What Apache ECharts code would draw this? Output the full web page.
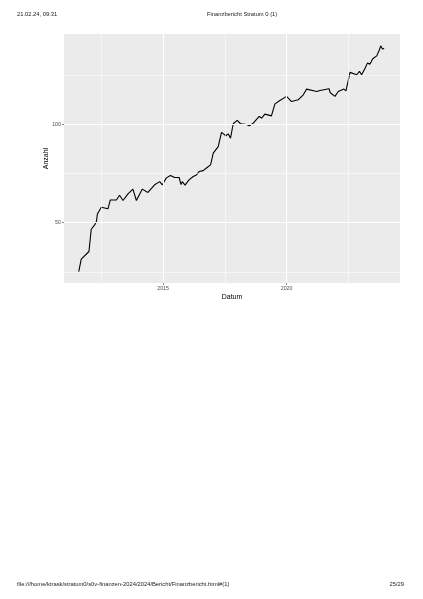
<!DOCTYPE html>
<html>
<head>
<meta charset="utf-8">
<script src="https://cdn.jsdelivr.net/npm/echarts@6/dist/echarts.min.js"></script>
<style>
html,body{margin:0;padding:0;background:#fff;}
#chart{width:423px;height:599px;}
</style>
</head>
<body>
<div id="chart"></div>
<script>
// ---- data ----
const dates = ['2011-08-03','2011-09-09','2011-10-03','2012-01-01','2012-02-04','2012-03-25','2012-04-20','2012-05-05',
'2012-07-01','2012-09-05','2012-10-08','2012-11-12','2013-02-10','2013-03-28','2013-05-19','2013-07-31','2013-10-12',
'2013-12-02','2014-02-28','2014-05-22','2014-08-29','2014-11-12','2014-12-21','2015-02-19','2015-04-20','2015-06-21',
'2015-08-26','2015-09-24','2015-10-12','2015-11-22','2016-01-19','2016-03-22','2016-05-08','2016-06-17','2016-08-15',
'2016-10-13','2016-12-03','2017-01-12','2017-03-26','2017-05-14','2017-07-17','2017-08-20','2017-09-24','2017-11-03',
'2018-01-01','2018-02-19','2018-05-19','2018-06-28','2018-08-26','2018-11-22','2018-12-28','2019-02-14','2019-05-22',
'2019-07-13','2019-09-24','2020-01-01','2020-03-14','2020-06-21','2020-09-04','2020-10-23','2021-03-22','2021-05-08',
'2021-09-20','2021-10-05','2021-12-16','2022-02-03','2022-04-27','2022-05-28','2022-07-27','2022-11-03','2022-12-13',
'2023-01-15','2023-03-08','2023-04-10','2023-05-19','2023-06-28','2023-08-26','2023-10-05','2023-10-23','2023-11-21',
'2023-12-13'];
const anzahl = [25.1,31.4,32.4,35.3,46.6,48.8,50.5,54.4,
57.8,57.3,57.0,61.5,61.5,63.9,61.2,64.6,67.0,
61.2,67.0,65.3,69.2,70.8,69.2,72.7,73.9,72.9,
72.9,69.3,70.8,69.0,71.7,73.4,74.2,75.9,76.4,
78.0,79.3,85.3,88.6,95.8,94.1,95.1,92.9,100.2,
101.9,100.2,99.8,99.2,100.5,103.9,103.1,105.1,104.2,
110.3,112.0,114.1,111.5,112.4,114.9,117.8,116.6,117.1,
118.0,116.1,114.1,116.6,117.8,116.9,126.3,125.1,126.8,
125.1,128.5,131.0,130.5,133.2,134.7,137.8,139.8,138.1,
138.6];
const xMajorTicks = ['2015-01-01','2020-01-01'];
const xMinorTicks = ['2012-07-02','2017-07-02','2022-07-02'];
const yMajorTicks = [50, 100];
const yMinorTicks = [25, 75, 125];
const xRange = ['2010-12-28','2024-08-04'];
const yRange = [19.3, 145.8];

const headerLeft = '21.02.24, 09:31';
const headerCenter = 'Finanzbericht Stratum 0 (1)';
const footerLeft = 'file:///home/ktrask/stratum0/s0v-finanzen-2024/2024/Bericht/Finanzbericht.html#(1)';
const footerRight = '25/29';

const ts = s => Date.parse(s + 'T00:00:00Z');
const lineData = dates.map((d, i) => [ts(d), anzahl[i]]);

const font = 'Liberation Sans, Arial, sans-serif';
const chart = echarts.init(document.getElementById('chart'), null, {renderer: 'canvas'});

const gridLines = [].concat(
  xMajorTicks.map(d => ({xAxis: ts(d), lineStyle: {width: 1.1}})),
  xMinorTicks.map(d => ({xAxis: ts(d), lineStyle: {width: 0.55}})),
  yMajorTicks.map(v => ({yAxis: v, lineStyle: {width: 1.1}})),
  yMinorTicks.map(v => ({yAxis: v, lineStyle: {width: 0.55}}))
);
const pageText = {fontFamily: font, fontSize: 5.8, fontWeight: 'normal', color: '#222'};

chart.setOption({
  animation: false,
  backgroundColor: '#ffffff',
  title: [
    {text: headerLeft, left: 17, top: 11, padding: 0, textStyle: pageText},
    {text: headerCenter, left: 207, top: 11, padding: 0, textStyle: pageText},
    {text: footerLeft, left: 17, top: 581.5, padding: 0, textStyle: pageText},
    {text: footerRight, right: 19, top: 581.5, padding: 0, textStyle: pageText}
  ],
  grid: {left: 64, top: 34, right: 23, bottom: 316, show: true, backgroundColor: '#EBEBEB', borderWidth: 0},
  xAxis: {
    type: 'value',
    min: ts(xRange[0]), max: ts(xRange[1]),
    name: 'Datum', nameLocation: 'middle', nameGap: 11, nameMoveOverlap: false,
    nameTextStyle: {fontFamily: font, fontSize: 7, color: '#000'},
    axisLine: {show: false},
    axisTick: {show: true, length: 2, lineStyle: {color: '#333', width: 0.6}, customValues: xMajorTicks.map(ts)},
    axisLabel: {show: true, margin: 3, fontFamily: font, fontSize: 5.3, color: '#4D4D4D',
      customValues: xMajorTicks.map(ts), formatter: v => String(new Date(v).getUTCFullYear())},
    splitLine: {show: false}
  },
  yAxis: {
    type: 'value',
    min: yRange[0], max: yRange[1],
    name: 'Anzahl', nameLocation: 'middle', nameGap: 14, nameRotate: 90, nameMoveOverlap: false,
    nameTextStyle: {fontFamily: font, fontSize: 7, color: '#000'},
    axisLine: {show: false},
    axisTick: {show: true, length: 2, lineStyle: {color: '#333', width: 0.6}, customValues: yMajorTicks},
    axisLabel: {show: true, margin: 3, fontFamily: font, fontSize: 5.3, color: '#4D4D4D', customValues: yMajorTicks},
    splitLine: {show: false}
  },
  series: [
    {
      type: 'line', data: lineData, z: 1, silent: true, symbol: 'none',
      lineStyle: {opacity: 0},
      markLine: {silent: true, symbol: 'none', label: {show: false}, animation: false,
        lineStyle: {color: '#ffffff', type: 'solid'}, data: gridLines}
    },
    {
      type: 'line', data: lineData, z: 3, symbol: 'none', showSymbol: false,
      lineStyle: {color: '#000', width: 1.1}
    }
  ]
});
</script>
</body>
</html>
